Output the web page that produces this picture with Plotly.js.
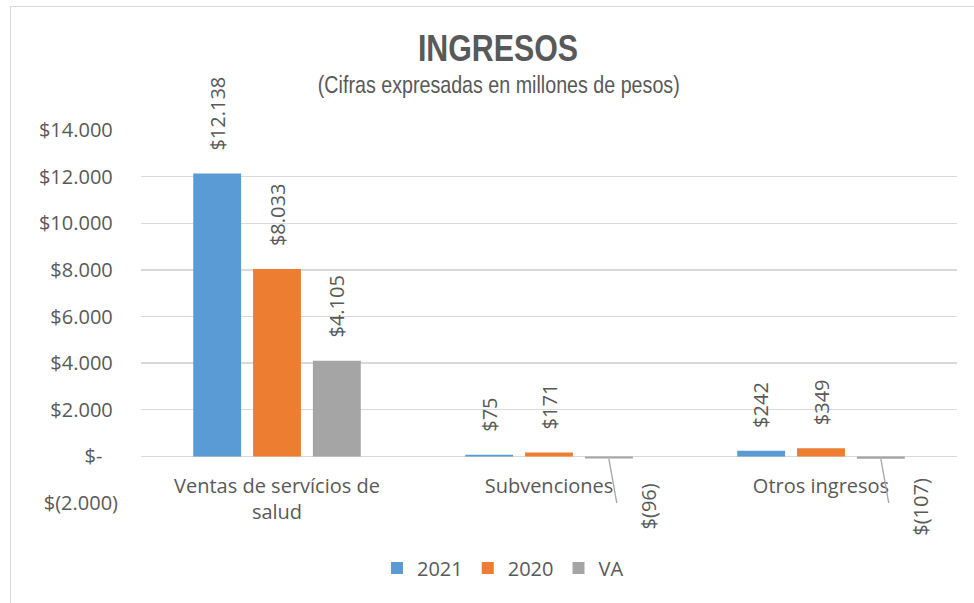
<!DOCTYPE html>
<html>
<head>
<meta charset="utf-8">
<script src="https://cdn.plot.ly/plotly-3.0.1.min.js"></script>
<style>
  html, body { margin:0; padding:0; background:#fff; }
  #frame { position:absolute; left:10px; top:6px; width:980px; height:620px; border-left:1px solid #d9d9d9; border-top:1px solid #d9d9d9; }
  #chart { position:absolute; left:0; top:0; width:974px; height:603px; }
  .narrow { transform-box: fill-box; transform-origin: center; transform: scaleX(0.82); }
</style>
</head>
<body>
<div id="frame"></div>
<div id="chart"></div>
<script>
// ---- data ----
const categories = ["Ventas de servícios de<br>salud", "Subvenciones", "Otros ingresos"];
const seriesNames = ["2021", "2020", "VA"];
const values2021 = [12138, 75, 242];
const values2020 = [8033, 171, 349];
const valuesVA = [4105, -96, -107];
const labels2021 = ["$12.138", "$75", "$242"];
const labels2020 = ["$8.033", "$171", "$349"];
const labelsVA = ["$4.105", "$(96)", "$(107)"];
const yTickVals = [-2000, 0, 2000, 4000, 6000, 8000, 10000, 12000, 14000];
const yTickText = ["$(2.000)", "$-\u00a0\u00a0\u00a0", "$2.000\u00a0", "$4.000\u00a0", "$6.000\u00a0", "$8.000\u00a0", "$10.000\u00a0", "$12.000\u00a0", "$14.000\u00a0"];

const colors = ["#5B9BD5", "#ED7D31", "#A5A5A5"];
const allValues = [values2021, values2020, valuesVA];
const allLabels = [labels2021, labels2020, labelsVA];
const FONT = "Open Sans, Noto Sans, sans-serif";
const NARROW = "Liberation Sans, Arial, sans-serif";
const TXT = "#595959";

const bargap = 0.34;
const slot = (1 - bargap) / 3;
const offsets = [-slot, 0, slot];

const traces = seriesNames.map((name, s) => ({
  type: "bar",
  name: name,
  x: categories,
  y: allValues[s],
  marker: { color: colors[s] },
  hoverinfo: "skip"
}));

const annotations = [];
const shapes = [];
for (let s = 0; s < 3; s++) {
  for (let i = 0; i < categories.length; i++) {
    const v = allValues[s][i];
    const xc = i + offsets[s];
    if (v >= 0) {
      annotations.push({
        x: xc, y: v, xref: "x", yref: "y",
        text: allLabels[s][i], showarrow: false, textangle: -90,
        xanchor: "center", yanchor: "bottom", yshift: 21,
        font: { family: FONT, size: 20, color: TXT }
      });
    } else {
      annotations.push({
        x: xc, y: v, xref: "x", yref: "y",
        text: allLabels[s][i], showarrow: false, textangle: -90,
        xanchor: "center", yanchor: "middle", xshift: 40, yshift: -48,
        font: { family: FONT, size: 20, color: TXT }
      });
      const yElbow = v - 2150;
      shapes.push({ type: "line", xref: "x", yref: "y", x0: xc, y0: v, x1: xc + 0.033, y1: yElbow, line: { color: "#a6a6a6", width: 1.3 } });
      shapes.push({ type: "line", xref: "x", yref: "y", x0: xc + 0.033, y0: yElbow, x1: xc + 0.08, y1: yElbow, line: { color: "#a6a6a6", width: 1.3 } });
    }
  }
}

// subtitle (paper coords)
annotations.push({
  xref: "paper", yref: "paper", x: (499 - 141) / 816, y: (503 - 85) / 373,
  xanchor: "center", yanchor: "middle", showarrow: false,
  text: "(Cifras expresadas en millones de pesos)",
  font: { family: NARROW, size: 24, color: TXT }
});

const layout = {
  width: 974, height: 603,
  margin: { l: 141, r: 17, t: 130, b: 100 },
  paper_bgcolor: "rgba(0,0,0,0)",
  plot_bgcolor: "rgba(0,0,0,0)",
  title: {
    text: "<b>INGRESOS</b>",
    xref: "container", yref: "container",
    x: 498 / 974, y: 1 - 48 / 603, xanchor: "center", yanchor: "middle",
    font: { family: NARROW, size: 37, color: TXT }
  },
  barmode: "group",
  bargap: bargap,
  bargroupgap: 0.2,
  xaxis: {
    type: "category",
    anchor: "free",
    position: 47 / 373,
    showgrid: false,
    showline: false,
    zeroline: false,
    ticks: "outside", ticklen: 12, tickcolor: "rgba(0,0,0,0)",
    tickfont: { family: FONT, size: 20, color: TXT },
    range: [-0.5, 2.5]
  },
  yaxis: {
    range: [-2000, 14000],
    tickvals: yTickVals,
    ticktext: yTickText,
    showgrid: true, gridcolor: "#d9d9d9", gridwidth: 1.3,
    zeroline: true, zerolinecolor: "#d9d9d9", zerolinewidth: 1.5,
    showline: false,
    ticks: "outside", ticklen: 18, tickcolor: "rgba(0,0,0,0)",
    tickfont: { family: FONT, size: 20, color: TXT }
  },
  legend: {
    orientation: "h",
    xref: "container", yref: "container",
    x: 503 / 974, y: 1 - 568 / 603, xanchor: "center", yanchor: "middle",
    font: { family: FONT, size: 20, color: TXT },
    itemwidth: 30
  },
  annotations: annotations,
  shapes: shapes,
  showlegend: true
};

Plotly.newPlot("chart", traces, layout, { displayModeBar: false, staticPlot: true }).then(gd => {
  // emulate the narrow typeface of the title and subtitle
  const t = gd.querySelector(".gtitle");
  if (t) t.classList.add("narrow");
  gd.querySelectorAll(".annotation-text").forEach(el => {
    if (el.textContent.indexOf("Cifras") >= 0) el.classList.add("narrow");
  });
});
</script>
</body>
</html>
